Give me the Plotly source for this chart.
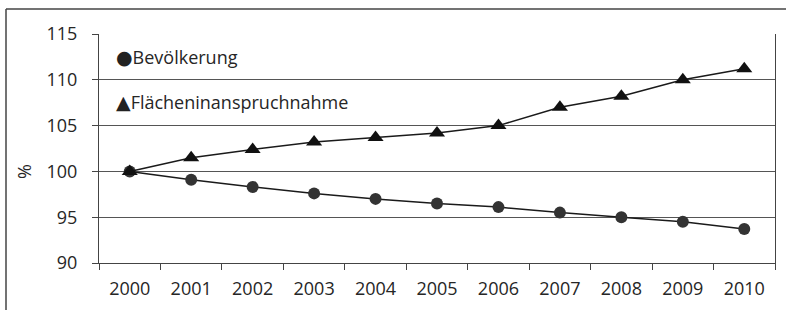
import plotly.graph_objects as go

years = ["2000", "2001", "2002", "2003", "2004", "2005", "2006", "2007", "2008", "2009", "2010"]
bevoelkerung = [100.0, 99.1, 98.3, 97.6, 97.0, 96.5, 96.1, 95.5, 95.0, 94.5, 93.7]
flaeche = [100.0, 101.5, 102.4, 103.2, 103.7, 104.2, 105.0, 107.0, 108.2, 110.0, 111.2]
y_ticks = [90, 95, 100, 105, 110, 115]
series_names = ["Bevölkerung", "Flächeninanspruchnahme"]

FONT = "Open Sans"
TXT = "#262626"
FS = 18

fig = go.Figure()
fig.add_trace(go.Scatter(
    x=years, y=bevoelkerung, name=series_names[0], mode="lines+markers",
    line=dict(color="#1a1a1a", width=1.5),
    marker=dict(symbol="circle", size=12, color="#333333"),
    showlegend=False,
))
fig.add_trace(go.Scatter(
    x=years, y=flaeche, name=series_names[1], mode="lines+markers",
    line=dict(color="#1a1a1a", width=1.5),
    marker=dict(symbol="triangle-up", size=14, color="#111111"),
    showlegend=False,
))

W, H = 786, 310
L, R, T, B = 99, 11, 34, 47
pw, ph = W - L - R, H - T - B

def px(x):
    return (x - L) / pw

def py(y):
    return 1 - (y - T) / ph

SYM = "<span style='font-family:DejaVu Sans;font-size:19px;color:#222222'>{}</span>"
# legend-like labels
fig.add_annotation(x=px(114), y=py(57), xref="paper", yref="paper", xanchor="left", yanchor="middle",
                   text=SYM.format("●") + series_names[0], showarrow=False,
                   font=dict(family=FONT, size=FS, color=TXT))
fig.add_annotation(x=px(114), y=py(102), xref="paper", yref="paper", xanchor="left", yanchor="middle",
                   text=SYM.format("▲") + series_names[1], showarrow=False,
                   font=dict(family=FONT, size=FS, color=TXT))
# y-axis title
fig.add_annotation(x=px(24), y=py(172), xref="paper", yref="paper", xanchor="center", yanchor="middle",
                   text="%", textangle=-90, showarrow=False, font=dict(family=FONT, size=FS, color=TXT))

# outer frame (left and top edges)
fig.add_shape(type="line", xref="paper", yref="paper", x0=px(6), x1=px(6), y0=py(312), y1=py(9),
              line=dict(color="#444444", width=1.5))
fig.add_shape(type="line", xref="paper", yref="paper", x0=px(6), x1=px(790), y0=py(9), y1=py(9),
              line=dict(color="#444444", width=1.5))

fig.update_layout(
    width=W, height=H,
    margin=dict(l=L, r=R, t=T, b=B),
    paper_bgcolor="white", plot_bgcolor="white",
    font=dict(family=FONT, size=FS, color=TXT),
    showlegend=False,
)
fig.update_xaxes(
    type="category", range=[-0.5, 10.5],
    showline=True, linecolor="#444444", linewidth=1.2,
    ticks="outside", tickson="boundaries", ticklen=6, tickcolor="#444444",
    showgrid=False, ticklabelstandoff=9,
    tickfont=dict(family=FONT, size=FS, color=TXT),
)
fig.update_yaxes(
    range=[90, 115], tickvals=y_ticks,
    showline=True, mirror=True, linecolor="#444444", linewidth=1.2,
    ticks="outside", ticklen=6, tickcolor="#444444",
    showgrid=True, gridcolor="#555555", gridwidth=1,
    zeroline=False, ticklabelstandoff=11,
    tickfont=dict(family=FONT, size=FS, color=TXT),
)

fig.write_html("out.html", config={"displayModeBar": False},
               post_script="document.body.style.margin='0';")
